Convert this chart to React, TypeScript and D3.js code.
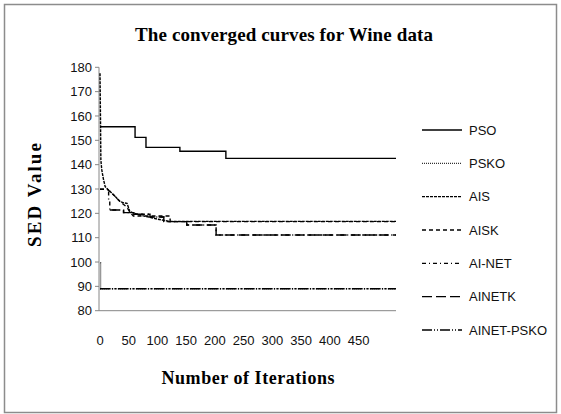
import React from 'react';
import * as d3 from 'd3';

// series names, in legend order
const seriesNames = ['PSO', 'PSKO', 'AIS', 'AISK', 'AI-NET', 'AINETK', 'AINET-PSKO'];

// iteration / SED value pairs
const psoIter = [0, 61, 80, 139, 219, 515];
const psoValue = [155.6, 151.2, 147.1, 145.5, 142.6, 142.6];

const pskoIter = [0, 1, 515];
const pskoValue = [99.6, 89, 89];

const aisIter = [0, 1, 1.5, 3, 6, 9, 13, 18, 27, 35, 42, 47, 52, 60, 70, 80, 90, 100, 112, 122, 515];
const aisValue = [177.6, 155.6, 141.9, 138, 134, 131, 130, 128.9, 126.8, 124.8, 124.3, 124.1, 120.7, 120, 119.3, 118.7, 118.2, 117.6, 117.1, 116.7, 116.7];

const aiskIter = [0, 12, 18, 27, 35, 47, 52, 58, 122, 122, 515];
const aiskValue = [129.9, 129.9, 128.9, 126.8, 124.8, 122.5, 120.5, 118.9, 118.9, 116.6, 116.6];

const ainetIter = [0, 15, 17, 41, 59, 87, 111, 151, 202, 515];
const ainetValue = [129.9, 125, 121.4, 120.3, 119.6, 118.5, 116.6, 115.2, 111.1, 111.1];

const ainetkIter = [17, 41, 59, 87, 111, 151, 202, 515];
const ainetkValue = [121.4, 120.3, 119.6, 118.5, 116.6, 115.2, 111.1, 111.1];

const ainetPskoIter = [0, 515];
const ainetPskoValue = [89, 89];

const yTicks = [80, 90, 100, 110, 120, 130, 140, 150, 160, 170, 180];
const xTicks = [0, 50, 100, 150, 200, 250, 300, 350, 400, 450];

const zip = (it: number[], v: number[]) => it.map((x, i) => ({ x, y: v[i] }));

const series = [
  { name: 'PSO', points: zip(psoIter, psoValue), dash: null, color: '#000', curve: d3.curveStepAfter },
  { name: 'PSKO', points: zip(pskoIter, pskoValue), dash: '1,1', color: '#333', curve: d3.curveStepAfter },
  { name: 'AIS', points: zip(aisIter, aisValue), dash: '3,1', color: '#000', curve: d3.curveLinear },
  { name: 'AISK', points: zip(aiskIter, aiskValue), dash: '4,3', color: '#000', curve: d3.curveLinear },
  { name: 'AI-NET', points: zip(ainetIter, ainetValue), dash: '4,3,1,3', color: '#000', curve: d3.curveStepAfter },
  { name: 'AINETK', points: zip(ainetkIter, ainetkValue), dash: '10,4', color: '#000', curve: d3.curveStepAfter },
  { name: 'AINET-PSKO', points: zip(ainetPskoIter, ainetPskoValue), dash: '10,2,1,2,1,2', color: '#000', curve: d3.curveStepAfter },
];

const W = 561;
const H = 414;

export default function App() {
  const x = d3.scaleLinear().domain([0, 515]).range([100, 396]);
  const y = d3.scaleLinear().domain([80, 180]).range([310.7, 67.3]);
  const axisColor = '#868686';
  const sans = "'Liberation Sans', Arial, sans-serif";
  const serif = "'Liberation Serif', 'Times New Roman', serif";

  const legendY = d3.scalePoint().domain(seriesNames).range([130, 330]);

  return (
    <svg width={W} height={H} style={{ position: 'absolute', left: 0, top: 0, background: '#fff' }}>
      <rect x={4.5} y={4.5} width={552} height={408} fill="#fff" stroke="#8c8c8c" strokeWidth={1.5} />

      <text x={284} y={41} textAnchor="middle" fontFamily={serif} fontWeight="bold" fontSize={19}
        textLength={298} lengthAdjust="spacing">The converged curves for Wine data</text>

      {/* y axis */}
      <line x1={99} x2={99} y1={y(180)} y2={y(80)} stroke={axisColor} strokeWidth={1} />
      {yTicks.map(t => (
        <g key={t}>
          <line x1={95} x2={99} y1={y(t)} y2={y(t)} stroke={axisColor} />
          <text x={92} y={y(t)} dy="0.35em" textAnchor="end" fontFamily={sans} fontSize={13} fill="#111">{t}</text>
        </g>
      ))}

      {/* x axis */}
      <line x1={99} x2={396} y1={y(80)} y2={y(80)} stroke={axisColor} strokeWidth={1} />
      {xTicks.map(t => (
        <text key={t} x={x(t)} y={345} textAnchor="middle" fontFamily={sans} fontSize={13} fill="#111">{t}</text>
      ))}

      <text x={248} y={384} textAnchor="middle" fontFamily={serif} fontWeight="bold" fontSize={18}
        textLength={173} lengthAdjust="spacing">Number of Iterations</text>
      <text transform="translate(41,195) rotate(-90)" textAnchor="middle" fontFamily={serif} fontWeight="bold"
        fontSize={19} textLength={104} lengthAdjust="spacing">SED Value</text>

      {/* curves */}
      {series.map(s => {
        const line = d3.line<{ x: number; y: number }>()
          .x(d => x(d.x))
          .y(d => y(d.y))
          .curve(s.curve);
        return (
          <path key={s.name} d={line(s.points) || ''} fill="none" stroke={s.color} strokeWidth={1.4}
            strokeDasharray={s.dash || undefined} />
        );
      })}

      {/* legend */}
      {series.map(s => (
        <g key={s.name}>
          <line x1={422} x2={462} y1={legendY(s.name)} y2={legendY(s.name)} stroke={s.color}
            strokeWidth={1.3} strokeDasharray={s.dash || undefined} />
          <text x={469} y={legendY(s.name)} dy="0.35em" fontFamily={sans} fontSize={13} fill="#111">{s.name}</text>
        </g>
      ))}
    </svg>
  );
}
